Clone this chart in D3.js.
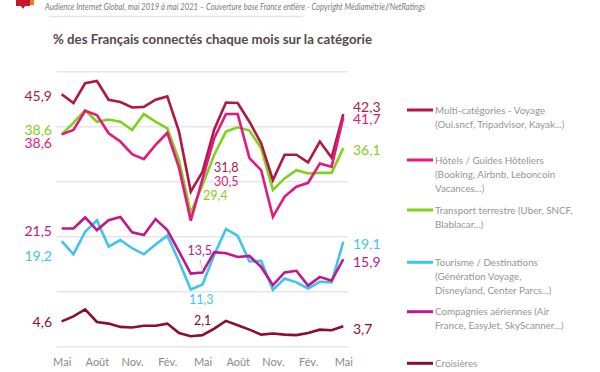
<!DOCTYPE html>
<html><head><meta charset="utf-8">
<script src="https://cdn.jsdelivr.net/npm/d3@7"></script>
<style>body{margin:0;background:#fff}svg{display:block}</style>
</head><body><svg id="c" width="600" height="372"></svg>
<script>
const months = ["mai 2019","juin 2019","juil. 2019","août 2019","sept. 2019","oct. 2019","nov. 2019","déc. 2019","janv. 2020","févr. 2020","mars 2020","avr. 2020","mai 2020","juin 2020","juil. 2020","août 2020","sept. 2020","oct. 2020","nov. 2020","déc. 2020","janv. 2021","févr. 2021","mars 2021","avr. 2021","mai 2021"];
const tickIndex = [0,3,6,9,12,15,18,21,24];
const tickLabels = ["Mai","Août","Nov.","Fév.","Mai","Août","Nov.","Fév.","Mai"];
const gridValues = [0,10,20,30,40,50];

const multi     = [45.9,44.3,47.9,48.3,44.9,44.5,43.5,43.6,44.9,45.5,39.1,28.2,31.8,39.5,44.4,44.3,40.9,37.0,30.3,34.9,34.9,33.5,37.3,34.4,42.3];
const hotels    = [38.6,39.4,42.9,42.1,38.8,37.3,35.0,34.1,36.7,38.9,32.5,22.9,30.5,37.9,42.3,42.3,34.3,32.1,23.6,27.3,29.1,29.8,33.3,32.7,41.7];
const transport = [38.6,40.7,43.0,40.9,41.3,40.9,39.4,42.3,40.9,39.7,33.9,24.3,29.4,34.9,39.1,39.9,39.3,36.1,28.5,30.6,32.1,31.5,31.6,31.6,36.1];
const tourisme  = [19.2,16.8,20.9,23.0,18.2,19.4,17.9,16.8,18.6,20.2,15.5,10.4,11.3,16.7,21.4,20.2,15.5,15.6,10.3,12.4,11.7,10.6,11.8,11.7,19.1];
const aerien    = [21.5,21.5,23.5,21.2,23.0,23.6,20.8,20.3,23.2,21.2,17.3,13.3,13.5,17.2,17.0,16.3,16.5,14.5,11.2,13.5,13.8,11.1,12.7,12.0,15.9];
const croisieres= [4.6,5.5,6.8,4.5,4.2,3.6,3.5,3.8,3.8,4.2,2.5,1.9,2.1,3.3,4.7,3.9,3.1,2.2,2.4,2.2,2.1,2.5,3.1,3.0,3.7];

const seriesNames = [
  ["Multi-catégories - Voyage","(Oui.sncf, Tripadvisor, Kayak...)"],
  ["Hôtels / Guides Hôteliers","(Booking, Airbnb, Leboncoin","Vacances...)"],
  ["Transport terrestre (Uber, SNCF,","Blablacar...)"],
  ["Tourisme / Destinations","(Génération Voyage,","Disneyland, Center Parcs...)"],
  ["Compagnies aériennes (Air","France, EasyJet, SkyScanner...)"],
  ["Croisières"]
];
const colors = ["#b01843","#e4197f","#7fd11b","#3ec6ea","#c0168e","#8c0d2f"];
const seriesValues = [multi, hotels, transport, tourisme, aerien, croisieres];

const svg = d3.select("#c");
const fmt = v => String(v.toFixed(1)).replace(".", ",");

const x = d3.scaleLinear().domain([0, months.length-1]).range([61.7, 343.3]);
const y = d3.scaleLinear().domain([0, 50]).range([346.7, 71.7]);

// header
const logo = svg.append("g");
logo.append("path").attr("d","M16,0 H30 V6 H25 L23,9 L21,6 H16 Z").attr("fill","#c8172b");
logo.append("rect").attr("x",30).attr("y",0).attr("width",4).attr("height",5).attr("fill","#ee7a1f");
svg.append("text").attr("x",45).attr("y",9.5).attr("font-family","Lato").attr("font-style","italic")
  .attr("font-size",8.6).attr("fill","#7a7a7a").attr("textLength",380).attr("lengthAdjust","spacingAndGlyphs")
  .text("Audience Internet Global, mai 2019 à mai 2021 – Couverture base France entière - Copyright Médiamétrie//NetRatings");
svg.append("line").attr("x1",49).attr("x2",303).attr("y1",16.5).attr("y2",16.5).attr("stroke","#eedfe3").attr("stroke-width",1.5);
svg.append("text").attr("x",53).attr("y",44).attr("font-family","Lato").attr("font-weight","bold")
  .attr("font-size",13.5).attr("fill","#56474c").attr("textLength",319).attr("lengthAdjust","spacingAndGlyphs")
  .text("% des Français connectés chaque mois sur la catégorie");

// grid
svg.append("g").selectAll("line").data(gridValues).join("line")
  .attr("x1",56.7).attr("x2",348).attr("y1",d=>y(d)).attr("y2",d=>y(d))
  .attr("stroke","#e6e6e6").attr("stroke-width",1.5);

// x axis
const xAxis = d3.axisBottom(x).tickValues(tickIndex).tickFormat((d,i)=>tickLabels[i]).tickSize(0).tickPadding(0);
const gx = svg.append("g").attr("transform","translate(0,358)").call(xAxis);
gx.select(".domain").remove();
gx.selectAll("text").attr("font-family","Lato").attr("font-size",11).attr("fill","#8a8a8a");

// lines
const line = d3.line().x((d,i)=>x(i)).y(d=>y(d));
const order = [5,3,4,2,0,1];
svg.append("g").selectAll("path").data(order).join("path")
  .attr("d", k => line(seriesValues[k])).attr("fill","none")
  .attr("stroke", k => colors[k]).attr("stroke-width",2.6).attr("stroke-linejoin","miter");

// value labels
const labels = [
  [0,0,52,96,"end",14],[2,0,52,129.5,"end",14],[1,0,52,143,"end",14],
  [4,0,52,231,"end",14],[3,0,52,256,"end",14],[5,0,52,322,"end",14],
  [0,24,353,106.5,"start",14],[1,24,353,119,"start",14],[2,24,353,149.5,"start",14],
  [3,24,353,243.5,"start",14],[4,24,353,261.5,"start",14],[5,24,353,328.5,"start",14],
  [0,12,214,167,"start",12.5],[1,12,214,181,"start",12.5],[2,12,203,195,"start",12.5],
  [4,12,187.5,250,"start",12.5],[3,12,189,299.5,"start",12.5],[5,12,194,320,"start",12.5]
];
svg.append("g").selectAll("text").data(labels).join("text")
  .attr("x",d=>d[2]).attr("y",d=>d[3]).attr("dy","0.36em")
  .attr("text-anchor",d=>d[4]).attr("font-family","Lato").attr("font-size",d=>d[5])
  .attr("fill",d=>colors[d[0]]).text(d=>fmt(seriesValues[d[0]][d[1]]));
svg.append("line").attr("x1",200).attr("y1",259).attr("x2",x(12)).attr("y2",y(aerien[12])-1)
  .attr("stroke","#b5b5b5").attr("stroke-width",0.8);

// legend
const legY = [110,160,210,262.3,311.7,363.3];
const leg = svg.append("g").selectAll("g").data(seriesNames).join("g")
  .attr("transform",(d,i)=>`translate(0,${legY[i]})`);
leg.append("line").attr("x1",407).attr("x2",433).attr("stroke",(d,i)=>colors[i]).attr("stroke-width",3);
leg.each(function(d){
  d3.select(this).selectAll("text").data(d).join("text")
    .attr("x",435).attr("y",(t,j)=>j*14.2).attr("dy","0.36em")
    .attr("font-family","Lato").attr("font-size",9.8).attr("fill","#959595").text(t=>t);
});
</script></body></html>
